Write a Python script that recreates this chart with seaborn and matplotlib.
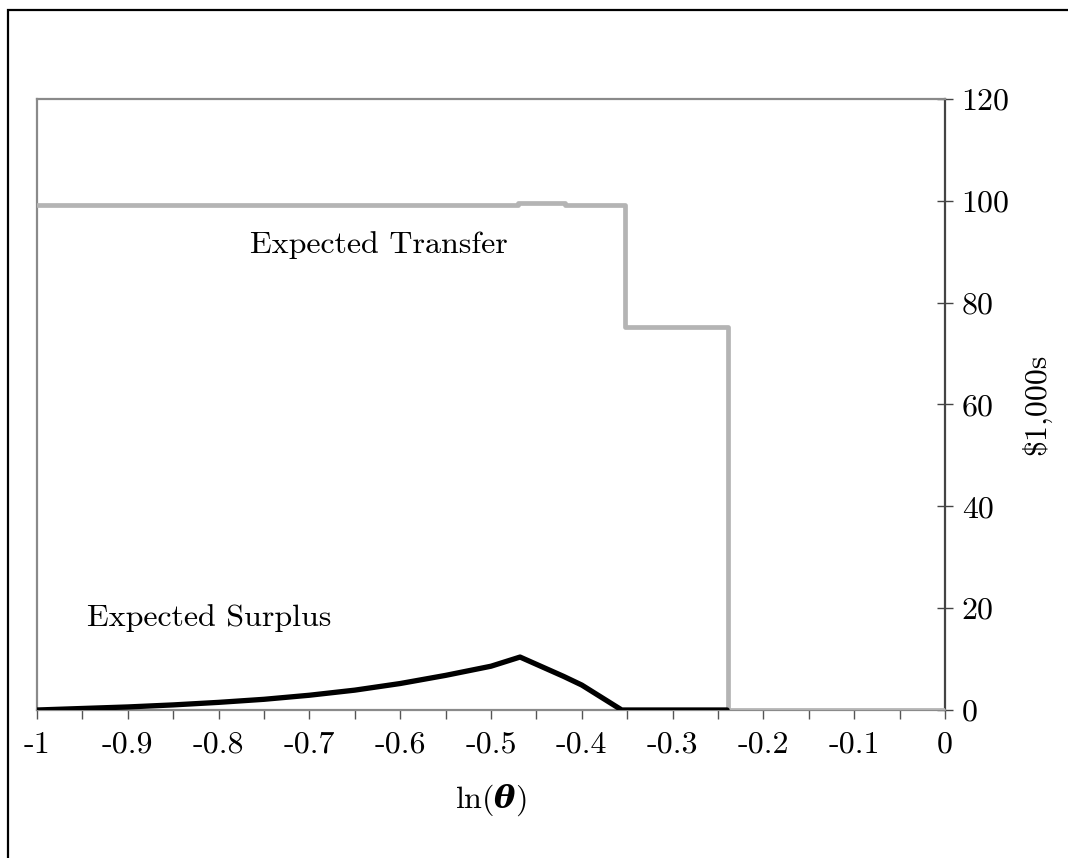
import matplotlib
matplotlib.use("Agg")
import matplotlib.pyplot as plt
import seaborn as sns
import pandas as pd
from matplotlib.patches import Rectangle

# ---- data ----
surplus_x = [-1.0, -0.95, -0.9, -0.85, -0.8, -0.75, -0.7, -0.65, -0.6, -0.55, -0.5, -0.468, -0.42, -0.40, -0.356, -0.30, -0.24]
surplus_y = [0.0, 0.3, 0.6, 1.0, 1.5, 2.1, 2.9, 3.9, 5.2, 6.8, 8.6, 10.4, 6.6, 4.9, 0.0, 0.0, 0.0]

transfer_x = [-1.0, -0.47, -0.418, -0.352, -0.239, 0.0]
transfer_y = [99.2, 99.6, 99.2, 75.2, 0.0, 0.0]

xtick_vals = [-1.0, -0.9, -0.8, -0.7, -0.6, -0.5, -0.4, -0.3, -0.2, -0.1, 0.0]
xtick_labels = ["-1", "-0.9", "-0.8", "-0.7", "-0.6", "-0.5", "-0.4", "-0.3", "-0.2", "-0.1", "0"]
ytick_vals = [0, 20, 40, 60, 80, 100, 120]
ytick_labels = ["0", "20", "40", "60", "80", "100", "120"]

sns.set_theme(style="white")
plt.rcParams["font.family"] = ["cmr10", "DejaVu Serif"]
plt.rcParams["axes.unicode_minus"] = False
plt.rcParams["mathtext.fontset"] = "custom"
plt.rcParams["mathtext.rm"] = "cmr10"
plt.rcParams["mathtext.it"] = "cmmi10"
plt.rcParams["mathtext.bf"] = "DejaVu Serif:bold:italic"

FS = 23

fig = plt.figure(figsize=(10.68, 8.58), dpi=100)
ax = fig.add_axes([37/1068, 1 - 710/858, (945-37)/1068, (710-99)/858])

df_t = pd.DataFrame({"x": transfer_x, "y": transfer_y})
df_s = pd.DataFrame({"x": surplus_x, "y": surplus_y})

sns.lineplot(data=df_t, x="x", y="y", ax=ax, color="#b4b4b4", linewidth=3.4,
             drawstyle="steps-post", estimator=None, sort=False, zorder=3)
sns.lineplot(data=df_s, x="x", y="y", ax=ax, color="black", linewidth=3.8,
             estimator=None, sort=False, zorder=4)

ax.set_xlim(-1, 0)
ax.set_ylim(0, 120)

ax.set_xticks(xtick_vals)
ax.set_xticklabels(xtick_labels, fontsize=FS)
ax.set_xticks([v + 0.05 for v in xtick_vals[:-1]], minor=True)
ax.set_yticks(ytick_vals)
ax.set_yticklabels(ytick_labels, fontsize=FS)

ax.yaxis.tick_right()
ax.yaxis.set_label_position("right")
ax.tick_params(axis="x", which="both", direction="out", length=6.5, width=1.0,
               color="#555555", bottom=True, pad=9, labelcolor="black")
ax.tick_params(axis="y", direction="inout", length=12, width=1.0, color="#444444",
               right=True, left=False, pad=6, labelcolor="black")

for side in ["left", "top", "bottom"]:
    ax.spines[side].set_color("#8a8a8a")
    ax.spines[side].set_linewidth(1.6)
ax.spines["right"].set_color("#444444")
ax.spines["right"].set_linewidth(1.6)

ax.set_xlabel(r"$\mathrm{ln}(\mathbf{\theta})$", fontsize=FS, color="black")
ax.xaxis.set_label_coords(0.5, -0.118)
ax.set_ylabel("$1,000s", fontsize=FS, color="black", rotation=90)
ax.yaxis.set_label_coords(1.084, 0.5)

ax.text(-0.624, 91.4, "Expected Transfer", fontsize=FS, ha="center", va="center", color="black")
ax.text(-0.81, 18.1, "Expected Surplus", fontsize=FS, ha="center", va="center", color="black")

fig.patches.append(Rectangle((8/1068, -0.5), 2.0, 0.5 + (1 - 10.5/858),
                             transform=fig.transFigure, fill=False,
                             edgecolor="black", linewidth=1.6, zorder=0))

fig.savefig("out.png", dpi=100, facecolor="white")
